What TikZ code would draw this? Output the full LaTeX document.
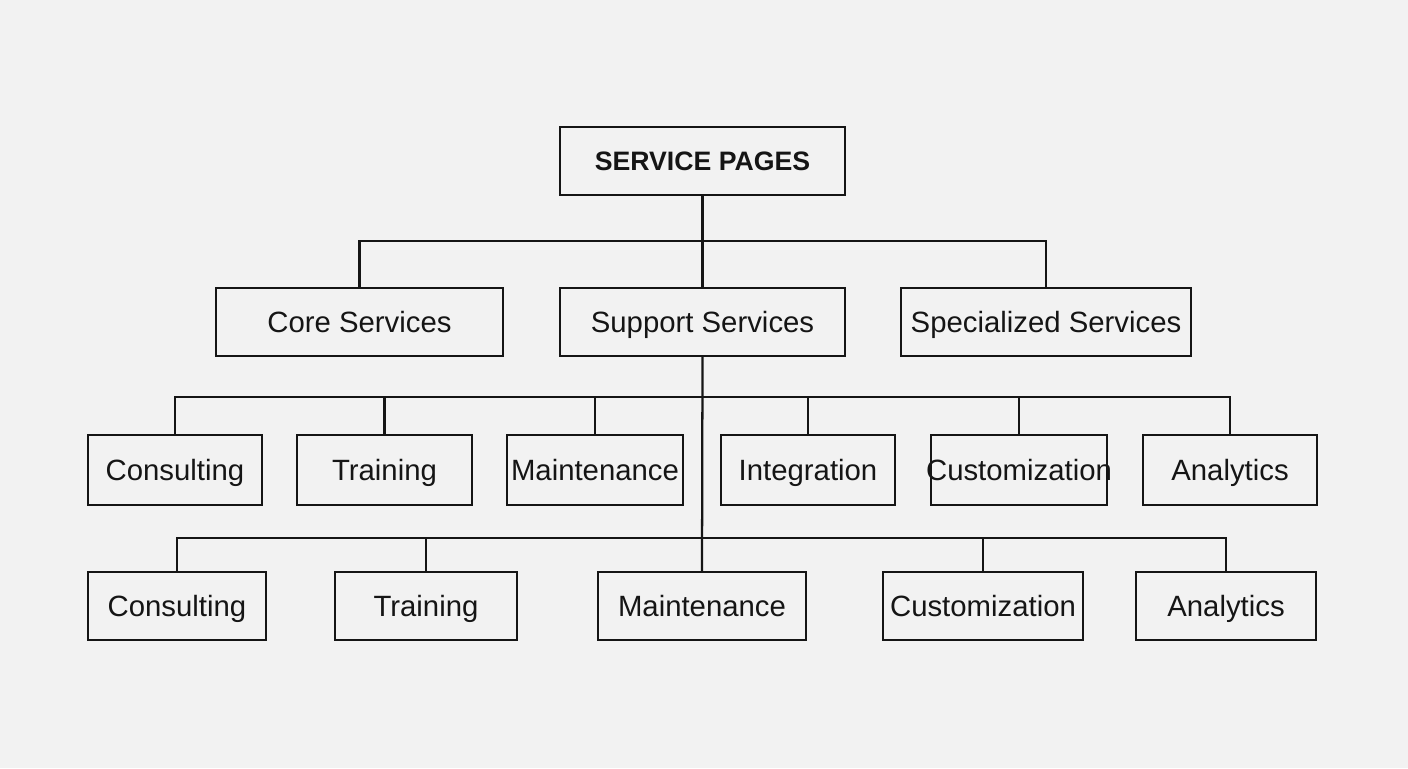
\documentclass[tikz,border=0pt]{standalone}
\usepackage{fontspec}
\setmainfont{Liberation Sans}
\definecolor{bg}{HTML}{F2F2F2}
\definecolor{ink}{HTML}{151515}
\tikzset{
  box/.style={draw=ink, line width=1.7pt, fill=bg, inner sep=0pt, text height=20pt, text depth=4.25pt, font=\fontsize{22}{26}\selectfont, text=ink},
  link/.style={draw=ink, line width=1.7pt},
}
\begin{document}
\begin{tikzpicture}[x=0.75pt,y=-0.75pt]
\fill[bg] (0,0) rectangle (1408,768);
\useasboundingbox (0,0) rectangle (1408,768);
% top
\node[box, minimum width=285*0.75pt, minimum height=68*0.75pt, text height=18pt, text depth=3.7pt, font=\fontsize{20}{24}\selectfont\bfseries] (top) at (702.5,161) {SERVICE PAGES};
% level 1
\node[box, minimum width=287*0.75pt, minimum height=68*0.75pt] (core) at (359.5,322) {Core Services};
\node[box, minimum width=285*0.75pt, minimum height=68*0.75pt] (supp) at (702.5,322) {Support Services};
\node[box, minimum width=290*0.75pt, minimum height=68*0.75pt] (spec) at (1046,322) {Specialized Services};
% level 2
\node[box, minimum width=174*0.75pt, minimum height=70*0.75pt] (r2a) at (175,470) {Consulting};
\node[box, minimum width=175*0.75pt, minimum height=70*0.75pt] (r2b) at (384.5,470) {Training};
\node[box, minimum width=176*0.75pt, minimum height=70*0.75pt, inner xsep=-6pt] (r2c) at (595,470) {Maintenance};
\node[box, minimum width=174*0.75pt, minimum height=70*0.75pt] (r2d) at (808,470) {Integration};
\node[box, minimum width=176*0.75pt, minimum height=70*0.75pt, inner xsep=-8pt, fill=none] (r2e) at (1019,470) {Customization};
\node[box, minimum width=174*0.75pt, minimum height=70*0.75pt] (r2f) at (1230,470) {Analytics};
% level 3
\node[box, minimum width=178*0.75pt, minimum height=68*0.75pt] (r3a) at (177,606) {Consulting};
\node[box, minimum width=182*0.75pt, minimum height=68*0.75pt] (r3b) at (426,606) {Training};
\node[box, minimum width=208*0.75pt, minimum height=68*0.75pt] (r3c) at (702,606) {Maintenance};
\node[box, minimum width=200*0.75pt, minimum height=68*0.75pt] (r3d) at (983,606) {Customization};
\node[box, minimum width=180*0.75pt, minimum height=68*0.75pt] (r3e) at (1226,606) {Analytics};
% buses
\coordinate (b1) at (702.5,241);
\coordinate (b2) at (702.5,397);
\coordinate (b3) at (702.5,538);
\draw[link] (top.south) -- (b1);
\draw[link] (core.north) |- (b1) -| (spec.north);
\draw[link] (b1) -- (supp.north);
\draw[link] (supp.south) -- (r3c.north);
\draw[link] (r2a.north) |- (b2) -| (r2f.north);
\draw[link] (r2b.north) -- (r2b.north |- b2);
\draw[link] (r2c.north) -- (r2c.north |- b2);
\draw[link] (r2d.north) -- (r2d.north |- b2);
\draw[link] (r2e.north) -- (r2e.north |- b2);
\draw[link] (r3a.north) |- (b3) -| (r3e.north);
\draw[link] (r3b.north) -- (r3b.north |- b3);
\draw[link] (r3d.north) -- (r3d.north |- b3);
\end{tikzpicture}
\end{document}
